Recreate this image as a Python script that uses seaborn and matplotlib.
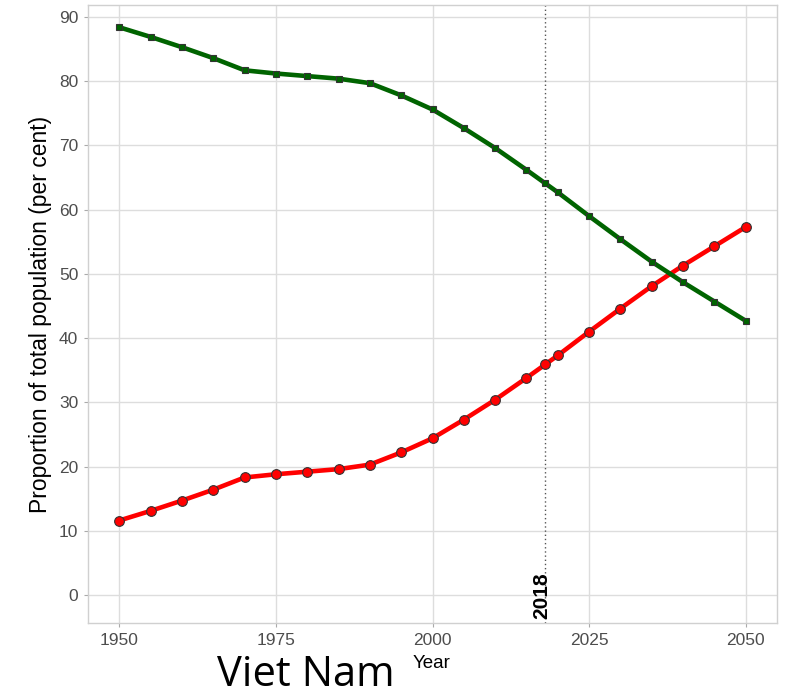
import pandas as pd
import matplotlib.pyplot as plt
import seaborn as sns

years = [1950, 1955, 1960, 1965, 1970, 1975, 1980, 1985, 1990, 1995, 2000,
         2005, 2010, 2015, 2018, 2020, 2025, 2030, 2035, 2040, 2045, 2050]
urban = [11.6, 13.1, 14.7, 16.4, 18.3, 18.8, 19.2, 19.6, 20.3, 22.2, 24.4,
         27.3, 30.4, 33.8, 35.9, 37.3, 41.0, 44.6, 48.1, 51.3, 54.3, 57.3]
rural = [round(100 - u, 1) for u in urban]
x_ticks = [1950, 1975, 2000, 2025, 2050]
y_ticks = [0, 10, 20, 30, 40, 50, 60, 70, 80, 90]

df = pd.DataFrame({'Year': years * 2,
                   'Value': urban + rural,
                   'Area': ['Urban'] * len(years) + ['Rural'] * len(years)})

sns.set_style('white')
plt.rcParams['font.family'] = ['Liberation Sans', 'DejaVu Sans']

fig = plt.figure(figsize=(7.92, 6.96), dpi=100)
ax = fig.add_axes([88 / 792, 1 - 623 / 696, (777 - 88) / 792, (623 - 5) / 696])

sns.lineplot(data=df, x='Year', y='Value', hue='Area', style='Area',
             palette={'Urban': '#FF0000', 'Rural': '#006400'},
             markers={'Urban': 'o', 'Rural': 's'}, dashes=False,
             linewidth=3.3, markersize=7, markeredgecolor='#333333',
             markeredgewidth=0.8, legend=False, ax=ax, zorder=3)
# square markers are smaller in the original
for line in ax.lines:
    if line.get_marker() == 's':
        line.set_markersize(5)

ax.axvline(2018, color='#555555', linestyle=(0, (1, 2)), linewidth=1, zorder=2)
ax.text(2017.5, -3.7, '2018', rotation=90, ha='center', va='bottom',
        fontsize=15, fontweight='bold', color='black')

ax.set_xlim(1945, 2055)
ax.set_ylim(-4.36, 91.87)
ax.set_xticks(x_ticks)
ax.set_yticks(y_ticks)
ax.grid(True, color='#DDDDDD', linewidth=1)
ax.set_axisbelow(True)
for s in ax.spines.values():
    s.set_color('#D0D0D0')
    s.set_linewidth(1)
ax.tick_params(axis='both', length=3, color='#AAAAAA', labelsize=12.5,
               labelcolor='#4D4D4D', pad=4, bottom=True, left=True)

ax.set_xlabel('')
ax.set_ylabel('Proportion of total population (per cent)', fontsize=16.5,
              color='black', labelpad=5)
fig.text(432 / 792, 1 - 664 / 696, 'Year', ha='center', va='center',
         fontsize=13.5, color='black')
fig.text(306 / 792, 1 - 686 / 696, 'Viet Nam', ha='center', va='baseline',
         fontsize=30, color='black', family=['Open Sans', 'DejaVu Sans'])

plt.savefig('out.png', dpi=100)
plt.close()
